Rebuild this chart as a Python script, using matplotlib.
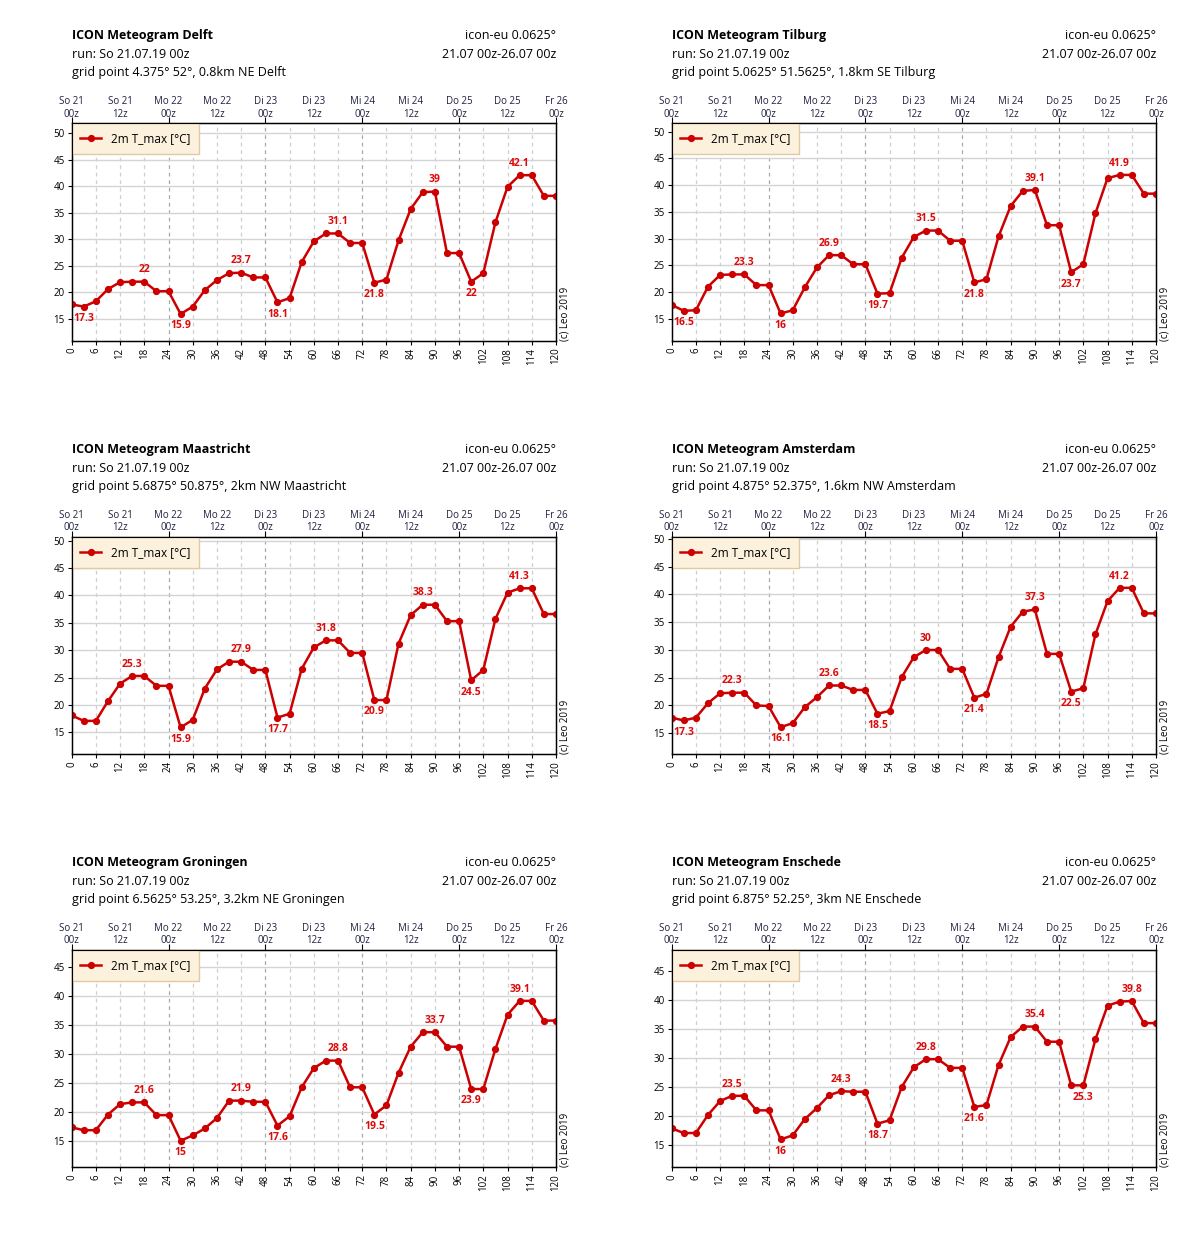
import matplotlib
matplotlib.use("Agg")
import matplotlib.pyplot as plt

plt.rcParams['font.family'] = ['Open Sans', 'DejaVu Sans']

# forecast hours (3-hourly, 0..120)
hours = list(range(0, 121, 3))

# 2m T_max [°C] per station
delft = [17.7, 17.3, 18.3, 20.6, 21.9, 22.0, 22.0, 20.2, 20.2, 15.9, 17.3, 20.4, 22.3, 23.6,
         23.7, 22.8, 22.8, 18.1, 18.9, 25.7, 29.6, 31.1, 31.1, 29.3, 29.3, 21.8, 22.4, 29.8,
         35.7, 38.9, 39.0, 27.4, 27.4, 22.0, 23.6, 33.2, 39.9, 42.1, 42.1, 38.2, 38.2]
tilburg = [17.6, 16.5, 16.6, 21.0, 23.2, 23.3, 23.3, 21.3, 21.3, 16.0, 16.6, 20.9, 24.6, 26.9,
           26.9, 25.2, 25.2, 19.7, 19.8, 26.4, 30.3, 31.5, 31.5, 29.6, 29.6, 21.8, 22.4, 30.4,
           36.1, 38.9, 39.1, 32.5, 32.5, 23.7, 25.2, 34.7, 41.3, 41.9, 41.9, 38.4, 38.4]
maastricht = [18.1, 17.1, 17.1, 20.7, 23.9, 25.3, 25.3, 23.5, 23.5, 15.9, 17.3, 23.0, 26.5, 27.9,
              27.9, 26.4, 26.4, 17.7, 18.4, 26.6, 30.5, 31.8, 31.8, 29.5, 29.5, 20.9, 20.9, 31.2,
              36.4, 38.3, 38.3, 35.3, 35.3, 24.5, 26.4, 35.7, 40.5, 41.3, 41.3, 36.6, 36.6]
amsterdam = [17.8, 17.3, 17.8, 20.4, 22.2, 22.3, 22.3, 20.0, 19.9, 16.1, 16.8, 19.7, 21.5, 23.6,
             23.6, 22.8, 22.8, 18.5, 19.0, 25.1, 28.7, 30.0, 30.0, 26.6, 26.6, 21.4, 22.1, 28.7,
             34.2, 36.9, 37.3, 29.3, 29.3, 22.5, 23.1, 32.8, 38.8, 41.2, 41.2, 36.6, 36.6]
groningen = [17.3, 16.8, 16.8, 19.5, 21.3, 21.6, 21.6, 19.4, 19.4, 15.0, 15.9, 17.1, 18.9, 21.9,
             21.9, 21.7, 21.7, 17.6, 19.2, 24.2, 27.5, 28.8, 28.8, 24.2, 24.2, 19.5, 21.1, 26.7,
             31.2, 33.7, 33.7, 31.2, 31.2, 23.9, 23.9, 30.8, 36.7, 39.1, 39.1, 35.7, 35.7]
enschede = [17.9, 17.1, 17.1, 20.2, 22.6, 23.5, 23.5, 21.0, 21.0, 16.0, 16.7, 19.5, 21.4, 23.6,
            24.3, 24.2, 24.2, 18.7, 19.3, 25.0, 28.4, 29.8, 29.8, 28.3, 28.3, 21.6, 21.9, 28.8,
            33.6, 35.4, 35.4, 32.8, 32.8, 25.3, 25.3, 33.2, 39.0, 39.7, 39.8, 36.0, 36.0]

# hours where daily max / min values are annotated
delft_max = [18, 42, 66, 90, 111]
delft_min = [3, 27, 51, 75, 99]
tilburg_max = [18, 39, 63, 90, 111]
tilburg_min = [3, 27, 51, 75, 99]
maastricht_max = [15, 42, 63, 87, 111]
maastricht_min = [27, 51, 75, 99]
amsterdam_max = [15, 39, 63, 90, 111]
amsterdam_min = [3, 27, 51, 75, 99]
groningen_max = [18, 42, 66, 90, 111]
groningen_min = [27, 51, 75, 99]
enschede_max = [15, 42, 63, 90, 114]
enschede_min = [27, 51, 75, 102]

stations = ["Delft", "Tilburg", "Maastricht", "Amsterdam", "Groningen", "Enschede"]
grid_points = [
    "grid point 4.375° 52°, 0.8km NE Delft",
    "grid point 5.0625° 51.5625°, 1.8km SE Tilburg",
    "grid point 5.6875° 50.875°, 2km NW Maastricht",
    "grid point 4.875° 52.375°, 1.6km NW Amsterdam",
    "grid point 6.5625° 53.25°, 3.2km NE Groningen",
    "grid point 6.875° 52.25°, 3km NE Enschede",
]
series = [delft, tilburg, maastricht, amsterdam, groningen, enschede]
max_hours = [delft_max, tilburg_max, maastricht_max, amsterdam_max, groningen_max, enschede_max]
min_hours = [delft_min, tilburg_min, maastricht_min, amsterdam_min, groningen_min, enschede_min]
ylims = [(10.85, 51.9), (10.9, 51.56), (11.0, 50.7), (11.2, 50.4), (10.4, 47.9), (11.2, 48.6)]

top_labels = ["So 21\n00z", "So 21\n12z", "Mo 22\n00z", "Mo 22\n12z", "Di 23\n00z", "Di 23\n12z",
              "Mi 24\n00z", "Mi 24\n12z", "Do 25\n00z", "Do 25\n12z", "Fr 26\n00z"]
run_text = "run: So 21.07.19 00z"
model_text = "icon-eu 0.0625°"
period_text = "21.07 00z-26.07 00z"

LINE = "#cc0000"
LABEL = "#dd0a0a"

fig = plt.figure(figsize=(12, 12.4), dpi=100)
col_x = [0.0597, 0.5597]
row_y = [0.7252, 0.3917, 0.0586]
W, H = 0.4036, 0.1754

for i, name in enumerate(stations):
    left = col_x[i % 2]
    bottom = row_y[i // 2]
    top = bottom + H
    ax = fig.add_axes([left, bottom, W, H])
    vals = series[i]

    # grid
    for h in range(6, 120, 6):
        if h % 24 == 0:
            ax.axvline(h, color="#a8a8a8", lw=0.9, ls=(0, (3, 3)), zorder=0)
        else:
            ax.axvline(h, color="#cfcfcf", lw=0.9, ls=(0, (3, 3)), zorder=0)
    for yv in range(15, 55, 5):
        ax.axhline(yv, color="#d4d4d4", lw=1.0, zorder=0)

    ax.plot(hours, vals, color=LINE, lw=1.8, marker="o", ms=4.2, label="2m T_max [°C]", zorder=3)

    for h in max_hours[i]:
        v = vals[hours.index(h)]
        ax.annotate(f"{v:g}", (h, v), xytext=(0, 8.5), textcoords="offset points",
                    ha="center", va="center", color=LABEL, fontsize=7.5, fontweight="bold")
    for h in min_hours[i]:
        v = vals[hours.index(h)]
        ax.annotate(f"{v:g}", (h, v), xytext=(0, -8.5), textcoords="offset points",
                    ha="center", va="center", color=LABEL, fontsize=7.5, fontweight="bold")

    ax.set_xlim(0, 120)
    ax.set_ylim(*ylims[i])
    ax.set_xticks(range(0, 121, 6))
    ax.set_xticklabels([str(h) for h in range(0, 121, 6)], rotation=90)
    ax.set_yticks([y for y in range(15, 55, 5) if y < ylims[i][1]])
    ax.tick_params(axis="both", labelsize=7, length=3, width=0.8, pad=2, colors="black")
    for sp in ax.spines.values():
        sp.set_linewidth(1.0)
        sp.set_color("black")

    # top axis with dates: labels every 12h, tick marks only at 00z
    ax2 = ax.twiny()
    ax2.set_xlim(0, 120)
    ax2.set_xticks(range(0, 121, 12))
    ax2.set_xticklabels(top_labels)
    ax2.set_xticks(range(0, 121, 24), minor=True)
    ax2.xaxis.remove_overlapping_locs = False
    ax2.tick_params(axis="x", which="major", length=0, labelsize=7, pad=2.5)
    ax2.tick_params(axis="x", which="minor", length=4, width=0.8)
    for lab in ax2.get_xticklabels():
        lab.set_linespacing(1.2)
        lab.set_color("#202040")

    leg = ax.legend(loc="upper left", borderaxespad=0, fontsize=8.5, fancybox=False,
                    handlelength=1.7, borderpad=0.75, handletextpad=0.9, framealpha=1)
    leg.get_frame().set_facecolor("#fcf1dd")
    leg.get_frame().set_edgecolor("#e2c9a2")
    leg.get_frame().set_linewidth(1.0)

    ax.text(1.018, 0.0, "(c) Leo 2019", transform=ax.transAxes, rotation=90,
            ha="center", va="bottom", fontsize=7)

    fig.text(left, top + 0.0704, f"ICON Meteogram {name}", fontsize=9, fontweight="bold",
             ha="left", va="center")
    fig.text(left, top + 0.0551, run_text, fontsize=9, ha="left", va="center")
    fig.text(left, top + 0.0406, grid_points[i], fontsize=9, ha="left", va="center")
    fig.text(left + W, top + 0.0704, model_text, fontsize=9, ha="right", va="center")
    fig.text(left + W, top + 0.0551, period_text, fontsize=9, ha="right", va="center")

fig.savefig("out.png", dpi=100, facecolor="white")
